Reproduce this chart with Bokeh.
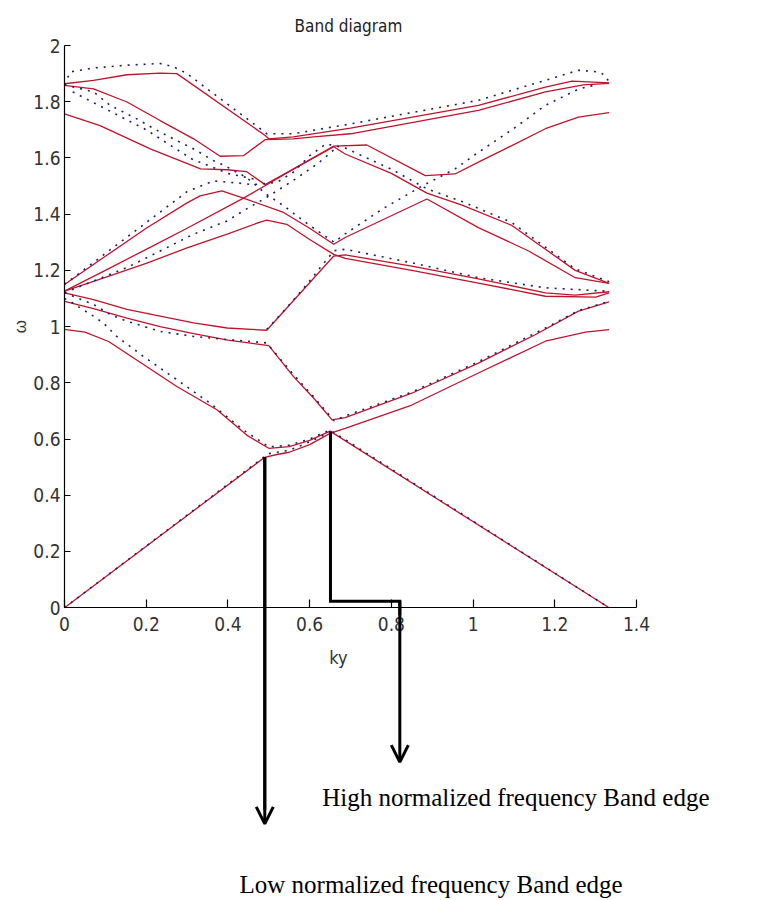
from math import pi
from bokeh.plotting import figure
from bokeh.models import Range1d, FixedTicker, NumeralTickFormatter, Label, Arrow, OpenHead
from bokeh.embed import file_html
from bokeh.resources import INLINE

# ---------------- data ----------------
x_ticks = [0, 0.2, 0.4, 0.6, 0.8, 1.0, 1.2, 1.4]
y_ticks = [0, 0.2, 0.4, 0.6, 0.8, 1.0, 1.2, 1.4, 1.6, 1.8, 2.0]

# red (solid) bands
r1_x = [0, 0.49, 0.52, 0.55, 0.60, 0.65, 0.687, 0.85, 1.013, 1.177, 1.275, 1.333]
r1_y = [0, 0.535, 0.545, 0.553, 0.58, 0.62, 0.638, 0.721, 0.835, 0.948, 0.98, 0.989]

r2_x = [0, 0.05, 0.108, 0.275, 0.373, 0.446, 0.5, 0.55, 0.6, 0.65, 1.333]
r2_y = [0.99, 0.98, 0.947, 0.787, 0.704, 0.614, 0.567, 0.573, 0.595, 0.628, 0.0]

r3_x = [0, 0.071, 0.153, 0.234, 0.316, 0.4, 0.5, 0.56, 0.61, 0.655, 0.687, 0.85, 1.013, 1.152, 1.258, 1.333]
r3_y = [1.09, 1.064, 1.03, 1.0, 0.975, 0.952, 0.932, 0.823, 0.745, 0.668, 0.676, 0.763, 0.87, 0.971, 1.055, 1.088]

r4_x = [0, 0.071, 0.153, 0.234, 0.316, 0.398, 0.495, 0.659, 0.687, 0.85, 1.013, 1.177, 1.25, 1.333]
r4_y = [1.12, 1.096, 1.061, 1.037, 1.013, 0.995, 0.987, 1.251, 1.255, 1.215, 1.17, 1.12, 1.112, 1.124]

r5_x = [0, 0.1, 0.2, 0.3, 0.4, 0.479, 0.495, 0.544, 0.6, 0.659, 0.687, 0.85, 1.013, 1.177, 1.3, 1.333]
r5_y = [1.126, 1.175, 1.225, 1.28, 1.33, 1.372, 1.379, 1.364, 1.31, 1.257, 1.243, 1.2, 1.155, 1.108, 1.105, 1.12]

r6_x = [0, 0.1, 0.2, 0.3, 0.332, 0.385, 0.438, 0.536, 0.6, 0.659, 0.687, 0.887, 1.013, 1.136, 1.25, 1.333]
r6_y = [1.15, 1.25, 1.35, 1.44, 1.465, 1.483, 1.457, 1.406, 1.35, 1.293, 1.317, 1.454, 1.352, 1.269, 1.174, 1.154]

r7_x = [0, 0.1, 0.2, 0.3, 0.438, 0.491, 0.56, 0.659, 0.74, 0.883, 0.956, 1.013, 1.095, 1.177, 1.258, 1.333]
r7_y = [1.126, 1.2, 1.275, 1.35, 1.457, 1.501, 1.56, 1.642, 1.646, 1.537, 1.543, 1.585, 1.644, 1.704, 1.745, 1.761]

r8_x = [0, 0.087, 0.21, 0.333, 0.398, 0.446, 0.491, 0.56, 0.659, 0.687, 0.8, 0.887, 0.973, 1.095, 1.25, 1.333]
r8_y = [1.757, 1.715, 1.632, 1.561, 1.558, 1.551, 1.505, 1.56, 1.64, 1.614, 1.545, 1.475, 1.432, 1.36, 1.2, 1.154]

r9_x = [0, 0.071, 0.153, 0.234, 0.275, 0.491, 0.5, 0.56, 0.7, 1.013, 1.177, 1.242, 1.333]
r9_y = [1.864, 1.876, 1.896, 1.902, 1.9, 1.68, 1.668, 1.675, 1.706, 1.787, 1.852, 1.873, 1.867]

r10_x = [0, 0.071, 0.153, 0.234, 0.316, 0.381, 0.438, 0.491, 0.56, 0.61, 0.7, 1.013, 1.177, 1.27, 1.333]
r10_y = [1.858, 1.846, 1.799, 1.733, 1.668, 1.606, 1.608, 1.665, 1.668, 1.675, 1.686, 1.769, 1.835, 1.86, 1.865]

# blue (dotted) bands
b1_x = [0, 0.014, 0.071, 0.153, 0.234, 0.267, 0.3, 0.349, 0.479, 0.495, 0.56, 0.7, 1.013, 1.177, 1.258, 1.307, 1.322, 1.333]
b1_y = [1.86, 1.906, 1.92, 1.93, 1.936, 1.924, 1.9, 1.846, 1.704, 1.686, 1.686, 1.721, 1.805, 1.876, 1.912, 1.906, 1.895, 1.87]

b2_x = [0, 0.071, 0.112, 0.177, 0.234, 0.316, 0.365, 0.389, 0.446, 0.495, 0.536, 0.6, 0.66,
        0.687, 0.78, 0.875, 0.956, 1.013, 1.095, 1.177, 1.258, 1.30]
b2_y = [1.86, 1.835, 1.787, 1.739, 1.692, 1.632, 1.59, 1.575, 1.53, 1.47, 1.43, 1.36, 1.30,
        1.33, 1.42, 1.50, 1.561, 1.62, 1.70, 1.787, 1.845, 1.86]

b3_x = [0, 0.1, 0.2, 0.3, 0.365, 0.43, 0.463, 0.52, 0.56, 0.6, 0.64, 0.687, 0.8, 0.887, 0.973, 1.095, 1.25, 1.333]
b3_y = [1.15, 1.26, 1.37, 1.48, 1.518, 1.51, 1.505, 1.513, 1.549, 1.608, 1.65, 1.635, 1.56, 1.49, 1.445, 1.37, 1.205, 1.16]

b4_x = [0.02, 0.1, 0.2, 0.312, 0.4, 0.463]
b4_y = [1.835, 1.775, 1.70, 1.596, 1.545, 1.525]

b5_x = [0, 0.071, 0.153, 0.234, 0.316, 0.398, 0.438, 0.495, 0.56, 0.62, 0.66]
b5_y = [1.12, 1.162, 1.21, 1.269, 1.329, 1.376, 1.412, 1.46, 1.52, 1.58, 1.63]

b6_x = [0, 0.071, 0.112, 0.153, 0.234, 0.316, 0.398, 0.495, 0.56, 0.61, 0.66,
        0.687, 0.85, 1.013, 1.177, 1.258, 1.333]
b6_y = [1.12, 1.079, 1.043, 1.019, 0.983, 0.965, 0.954, 0.942, 0.83, 0.75, 0.665,
        0.682, 0.767, 0.875, 0.995, 1.057, 1.09]

b7_x = [0.495, 0.544, 0.593, 0.626, 0.66, 0.687, 0.85, 1.013, 1.177, 1.3, 1.333]
b7_y = [0.99, 1.067, 1.15, 1.21, 1.27, 1.275, 1.227, 1.174, 1.138, 1.128, 1.126]

b8_x = [0, 0.014, 0.038, 0.071, 0.095, 0.128, 0.193, 0.275, 0.357, 0.438, 0.487, 0.5, 0.55, 0.6, 0.65, 1.333]
b8_y = [1.10, 1.09, 1.067, 1.037, 1.013, 0.965, 0.894, 0.811, 0.727, 0.632, 0.585, 0.572, 0.578, 0.60, 0.632, 0.0]

b9_x = [0, 0.49, 0.5, 0.55, 0.6, 0.65]
b9_y = [0, 0.538, 0.548, 0.56, 0.59, 0.625]

# annotation geometry (data units)
low_x = 0.4902
low_top = 0.5354
low_tip = -0.7688
high_x1 = 0.651
high_top = 0.6268
high_corner = 0.0231
high_x2 = 0.8207
high_tip = -0.5496

title_text = "Band diagram"
x_label = "ky"
y_label = "\u03c9"
high_text = "High normalized frequency Band edge"
low_text = "Low normalized frequency Band edge"

red_xs = [r1_x, r2_x, r3_x, r4_x, r5_x, r6_x, r7_x, r8_x, r9_x, r10_x]
red_ys = [r1_y, r2_y, r3_y, r4_y, r5_y, r6_y, r7_y, r8_y, r9_y, r10_y]
blue_xs = [b1_x, b2_x, b3_x, b4_x, b5_x, b6_x, b7_x, b8_x, b9_x]
blue_ys = [b1_y, b2_y, b3_y, b4_y, b5_y, b6_y, b7_y, b8_y, b9_y]

# ---------------- figure ----------------
# The frame covers the whole canvas; both axes sit at data 0 (fixed_location).
p = figure(width=758, height=900, x_range=Range1d(-0.15665, 1.69861), y_range=Range1d(-1.04162, 2.16009),
           output_backend="svg", toolbar_location=None, title=None,
           min_border_left=0, min_border_right=0, min_border_top=0, min_border_bottom=0)
p.background_fill_color = "white"
p.border_fill_color = "white"
p.outline_line_color = None
p.grid.visible = False

TICK_FONT = "DejaVu Sans Condensed, Liberation Sans"
p.xaxis.fixed_location = 0
p.xaxis.bounds = (0, 1.4)
p.xaxis.ticker = FixedTicker(ticks=x_ticks)
p.yaxis.fixed_location = 0
p.yaxis.bounds = (0, 2.0)
p.yaxis.ticker = FixedTicker(ticks=y_ticks)
for ax in (p.xaxis, p.yaxis):
    ax.formatter = NumeralTickFormatter(format="0.[0]")
    ax.axis_line_color = "black"
    ax.axis_line_width = 1.2
    ax.major_tick_line_color = "black"
    ax.major_tick_line_width = 1.2
    ax.major_tick_out = 0
    ax.minor_tick_line_color = None
    ax.major_label_text_font = TICK_FONT
    ax.major_label_text_font_size = "19px"
    ax.major_label_text_color = "#333333"
p.xaxis.major_tick_in = 8
p.yaxis.major_tick_in = 6
p.xaxis.major_label_standoff = 9
p.yaxis.major_label_standoff = 4

p.multi_line(xs=red_xs, ys=red_ys, line_color="#c0142c", line_width=1.3)
p.multi_line(xs=blue_xs, ys=blue_ys, line_color="#1c1c7a", line_width=1.6, line_dash="2 6")

# annotations: arrows
p.line([low_x, low_x], [low_top, low_tip + 0.05], line_color="black", line_width=3)
p.add_layout(Arrow(end=OpenHead(size=17, line_width=3, line_color="black"),
                   x_start=low_x, y_start=low_top, x_end=low_x, y_end=low_tip,
                   line_width=3, line_color="black"))
p.line([high_x1, high_x1, high_x2, high_x2], [high_top, high_corner, high_corner, high_corner - 0.05],
       line_color="black", line_width=3, line_join="miter")
p.add_layout(Arrow(end=OpenHead(size=17, line_width=3, line_color="black"),
                   x_start=high_x2, y_start=high_corner, x_end=high_x2, y_end=high_tip,
                   line_width=3, line_color="black"))

# texts
p.add_layout(Label(x=0.695, y=2.0676, text=title_text, text_align="center", text_baseline="alphabetic",
                   text_font=TICK_FONT, text_font_size="17px", text_color="#222222"))
p.add_layout(Label(x=0.6706, y=-0.177, text=x_label, text_align="center", text_baseline="middle",
                   text_font=TICK_FONT, text_font_size="18px", text_color="#333333"))
p.add_layout(Label(x=-0.1077, y=1.0, text=y_label, angle=pi / 2, text_align="center", text_baseline="middle",
                   text_font="Liberation Sans", text_font_size="17px", text_color="#333333"))
p.add_layout(Label(x=0.6307, y=-0.6741, text=high_text, text_align="left", text_baseline="alphabetic",
                   text_font="Liberation Serif", text_font_size="25px", text_color="black"))
p.add_layout(Label(x=0.4283, y=-0.9847, text=low_text, text_align="left", text_baseline="alphabetic",
                   text_font="Liberation Serif", text_font_size="25px", text_color="black"))

open("out.html", "w").write(file_html(p, INLINE))
